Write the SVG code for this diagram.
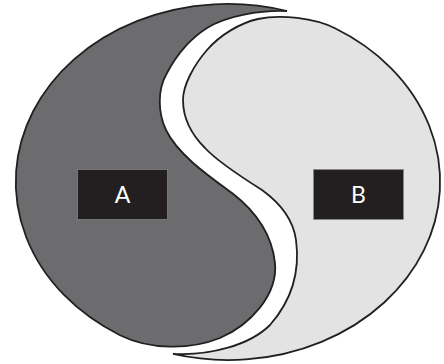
<svg xmlns="http://www.w3.org/2000/svg" width="444" height="364" viewBox="0 0 444 364">
  <style>
    .shape { stroke: #231f20; stroke-width: 1.8; stroke-linejoin: miter; }
    .dark { fill: #6c6c6e; }
    .light { fill: #e3e3e3; }
    .box { fill: #231f20; stroke: #8a8a8a; stroke-width: 0.7; }
    .lbl { fill: #ffffff; font-family: Lato, "Open Sans", "Liberation Sans", sans-serif; font-size: 23px; text-anchor: middle; }
  </style>
  <rect width="444" height="364" fill="#ffffff"/>
  <g id="A">
    <path class="shape dark" d="M 287,11 A 212 178 0 0 0 120,335.2 C 150,350 190,350 220,338 C 250,325 278,295 275,263 C 272,235 258,213 232,193 C 210,177 178,155 166,130 C 158,113 157,90 167,73 C 175,58 188,40 207,28 C 226,16 260,10 287,11 Z"/>
    <rect class="box" x="77.5" y="169.5" width="90" height="50"/>
    <text class="lbl" x="122.5" y="202.5">A</text>
  </g>
  <g id="B">
    <path class="shape light" d="M 173,353.9 A 212 178 0 0 0 335,28.3 C 315,18 280,14 258,19 C 240,23 220,35 207,50 C 194,65 183,85 183,100 C 183,120 192,135 205,148 C 216,160 243,178 262,190 C 280,203 293,218 296,240 C 300,270 292,300 270,325 C 250,345 210,356 173,353.9 Z"/>
    <rect class="box" x="313.5" y="169.5" width="90" height="50"/>
    <text class="lbl" x="358.5" y="202.5">B</text>
  </g>
</svg>
